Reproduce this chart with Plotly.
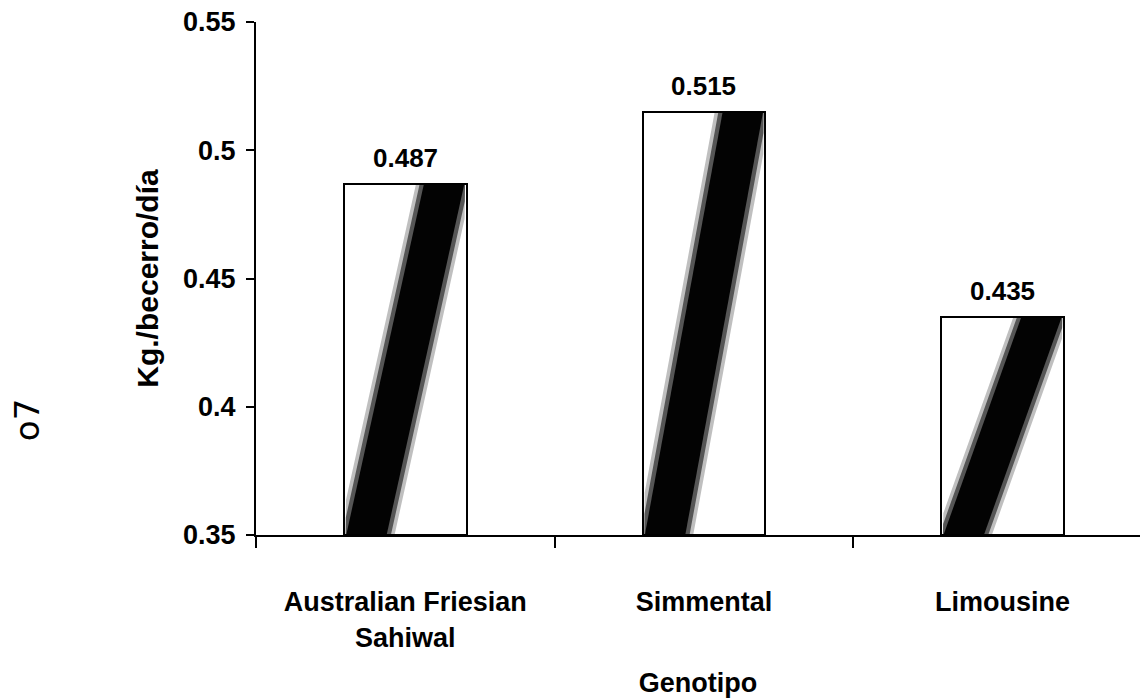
import numpy as np
import plotly.graph_objects as go

categories = ["Australian Friesian<br>Sahiwal", "Simmental", "Limousine"]
values = [0.487, 0.515, 0.435]
value_labels = ["0.487", "0.515", "0.435"]
y_ticks = [0.35, 0.40, 0.45, 0.50, 0.55]
y_tick_labels = ["0.35", "0.4", "0.45", "0.5", "0.55"]

FONT = "Liberation Sans, Arial, sans-serif"
BASE = 0.35
BAR_W = 0.41
xs = list(range(len(categories)))

fig = go.Figure()

# diagonal stippled band inside each bar (layers of decreasing opacity for soft edge)
layers = [(0.46, "rgba(0,0,0,0.25)"), (0.40, "rgba(0,0,0,0.55)"), (0.33, "rgba(0,0,0,0.97)")]
t = np.linspace(0, 1, 41)
for i, v in zip(xs, values):
    L = i - BAR_W / 2 + 0.005
    R = i + BAR_W / 2 - 0.005
    off = 0.17 * BAR_W
    c = (L + off) + (R - L - 2 * off) * t
    yy = BASE + (v - BASE) * t
    for frac, col in layers:
        hw = frac * BAR_W / 2
        left = np.clip(c - hw, L, R)
        right = np.clip(c + hw, L, R)
        px = np.concatenate([left, right[::-1], left[:1]])
        py = np.concatenate([yy, yy[::-1], yy[:1]])
        fig.add_trace(go.Scatter(x=px, y=py, mode="lines", fill="toself",
                                 fillcolor=col, line=dict(width=0),
                                 hoverinfo="skip", showlegend=False))

fig.add_trace(go.Bar(x=xs, y=[v - BASE for v in values], base=BASE, width=BAR_W,
                     marker=dict(color="rgba(0,0,0,0)", line=dict(color="black", width=2)),
                     showlegend=False))

for i, v, lab in zip(xs, values, value_labels):
    fig.add_annotation(x=i, y=v, text=lab, showarrow=False, yanchor="bottom", yshift=9,
                       font=dict(family=FONT, size=26, color="black", weight="bold"))

# stray handwritten mark at left margin
fig.add_annotation(xref="paper", yref="paper", x=-0.259, y=0.224, text="o7", showarrow=False,
                   textangle=-90, xanchor="center", yanchor="middle",
                   font=dict(family="DejaVu Sans", size=34, color="black"))

fig.update_layout(
    width=1140, height=700,
    margin=dict(l=256, r=0, t=22, b=165),
    plot_bgcolor="white", paper_bgcolor="white",
    font=dict(family=FONT, size=27, color="black"),
    bargap=0,
    xaxis=dict(
        range=[-0.5, 2.46], tickmode="array", tickvals=xs, ticktext=categories,
        ticks="", showgrid=False, zeroline=False,
        showline=True, linecolor="black", linewidth=2,
        tickfont=dict(family=FONT, size=27, color="black", weight="bold"),
        ticklabelstandoff=42,
        minor=dict(tickvals=[-0.5, 0.5, 1.5, 2.5], ticks="outside", ticklen=11,
                   tickwidth=2, tickcolor="black", showgrid=False),
        title=dict(text="<b>Genotipo</b>", standoff=22, font=dict(family=FONT, size=27)),
    ),
    yaxis=dict(
        range=[0.35, 0.55], tickmode="array", tickvals=y_ticks, ticktext=y_tick_labels,
        ticks="outside", ticklen=8, tickwidth=2, tickcolor="black",
        showgrid=False, zeroline=False,
        showline=True, linecolor="black", linewidth=2,
        tickfont=dict(family=FONT, size=27, color="black", weight="bold"),
        ticklabelstandoff=5,
        title=dict(text="<b>Kg./becerro/día</b>", standoff=16, font=dict(family=FONT, size=30)),
    ),
)

fig.write_html("out.html")
